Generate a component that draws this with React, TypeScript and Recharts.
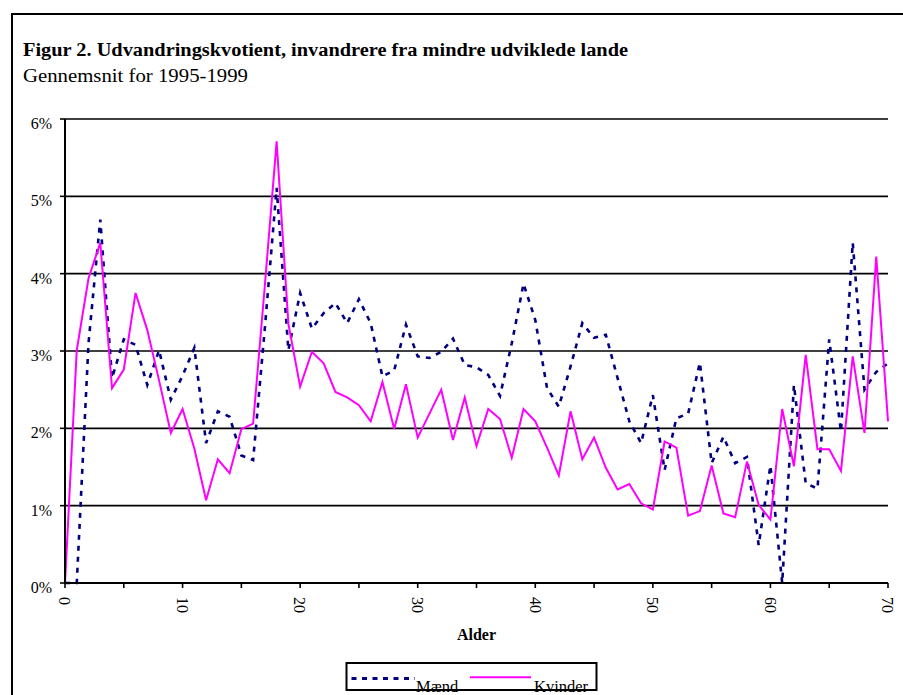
import React from 'react';
import { LineChart, Line, XAxis, YAxis, CartesianGrid, Legend } from 'recharts';

const ages = [
  0, 1, 2, 3, 4, 5, 6, 7, 8, 9, 10, 11, 12, 13, 14, 15, 16, 17, 18, 19, 20,
  21, 22, 23, 24, 25, 26, 27, 28, 29, 30, 31, 32, 33, 34, 35, 36, 37, 38, 39, 40,
  41, 42, 43, 44, 45, 46, 47, 48, 49, 50, 51, 52, 53, 54, 55, 56, 57, 58, 59, 60,
  61, 62, 63, 64, 65, 66, 67, 68, 69, 70,
];

// Udvandringskvotient i procent
const maend = [
  0, 0, 3.1, 4.7, 2.65, 3.15, 3.08, 2.56, 3.01, 2.37, 2.68,
  3.04, 1.81, 2.22, 2.15, 1.65, 1.59, 3.3, 5.11, 3.01, 3.75,
  3.29, 3.49, 3.62, 3.36, 3.67, 3.36, 2.67, 2.75, 3.34, 2.93,
  2.91, 2.99, 3.16, 2.82, 2.79, 2.69, 2.42, 3.1, 3.87, 3.4,
  2.52, 2.28, 2.8, 3.36, 3.17, 3.21, 2.65, 2.09, 1.81, 2.43,
  1.46, 2.13, 2.19, 2.85, 1.55, 1.89, 1.55, 1.63, 0.49, 1.52,
  0, 2.56, 1.29, 1.22, 3.15, 1.96, 4.4, 2.5, 2.73, 2.84,
];

const kvinder = [
  0, 3.01, 3.94, 4.4, 2.52, 2.76, 3.75, 3.27, 2.62, 1.94, 2.25,
  1.74, 1.07, 1.6, 1.42, 1.99, 2.06, 3.85, 5.71, 3.35, 2.54,
  2.99, 2.84, 2.47, 2.4, 2.3, 2.09, 2.6, 1.99, 2.57, 1.88,
  2.19, 2.5, 1.85, 2.4, 1.77, 2.25, 2.12, 1.62, 2.25, 2.09,
  1.75, 1.39, 2.22, 1.6, 1.88, 1.49, 1.21, 1.28, 1.03, 0.95,
  1.83, 1.75, 0.87, 0.93, 1.52, 0.9, 0.85, 1.57, 1.01, 0.82,
  2.25, 1.51, 2.95, 1.73, 1.73, 1.45, 2.93, 1.94, 4.22, 2.09,
];

const yTicks = [0, 1, 2, 3, 4, 5, 6];
const xTicks = [0, 5, 10, 15, 20, 25, 30, 35, 40, 45, 50, 55, 60, 65, 70];
const xLabels = [0, 10, 20, 30, 40, 50, 60, 70];

const titleText = 'Figur 2. Udvandringskvotient, invandrere fra mindre udviklede lande';
const subtitleText = 'Gennemsnit for 1995-1999';
const xAxisTitle = 'Alder';
const seriesNames = { maend: 'Mænd', kvinder: 'Kvinder' };

const data = ages.map((a, i) => ({ age: a, maend: maend[i], kvinder: kvinder[i] }));

const FONT = '"Liberation Serif", "Times New Roman", Times, serif';
const NAVY = '#000080';
const MAGENTA = '#FF00FF';

const XTick = (props: any) => {
  const { x, y, payload } = props;
  if (!xLabels.includes(payload.value)) return <g />;
  return (
    <text
      transform={`translate(${x},${y}) rotate(90)`}
      dy="0.36em"
      textAnchor="start"
      fontSize={16}
      fontFamily={FONT}
      fill="#000"
    >
      {payload.value}
    </text>
  );
};

const YTick = (props: any) => {
  const { x, y, payload } = props;
  return (
    <text x={x} y={y} dy={10} textAnchor="end" fontSize={16} fontFamily={FONT} fill="#000">
      {`${payload.value}%`}
    </text>
  );
};

const AxisTitle = (props: any) => {
  const vb = props.viewBox || { x: 65, y: 583, width: 823 };
  return (
    <text
      x={vb.x + vb.width / 2}
      y={vb.y + 57}
      textAnchor="middle"
      fontSize={16}
      fontWeight="bold"
      fontFamily={FONT}
      fill="#000"
    >
      {xAxisTitle}
    </text>
  );
};

const LegendBox = () => (
  <svg width={256} height={40} style={{ display: 'block', overflow: 'visible' }}>
    <rect x={1.5} y={1} width={250} height={27} fill="#fff" stroke="#000" strokeWidth={2} />
    <line x1={6.5} x2={70} y1={16.5} y2={16.5} stroke={NAVY} strokeWidth={3} strokeDasharray="5 5.5" />
    <text x={71} y={30} fontSize={16.5} fontFamily={FONT} fill="#000">{seriesNames.maend}</text>
    <line x1={125} x2={186} y1={15.3} y2={15.3} stroke={MAGENTA} strokeWidth={2} />
    <text x={189} y={30} fontSize={16.5} fontFamily={FONT} fill="#000">{seriesNames.kvinder}</text>
  </svg>
);

export default function App() {
  return (
    <div
      style={{
        position: 'absolute',
        left: 0,
        top: 0,
        width: 903,
        height: 695,
        overflow: 'hidden',
        background: '#fff',
      }}
    >
      <div
        style={{
          position: 'absolute',
          left: 11,
          top: 13,
          width: 2000,
          height: 2000,
          borderTop: '2px solid #000',
          borderLeft: '2px solid #000',
        }}
      />
      <svg
        width={903}
        height={100}
        style={{ position: 'absolute', left: 0, top: 0, pointerEvents: 'none' }}
      >
        <text
          x={23}
          y={56}
          fontSize={18}
          fontWeight="bold"
          fontFamily={FONT}
          textLength={605}
          lengthAdjust="spacingAndGlyphs"
          fill="#000"
        >
          {titleText}
        </text>
        <text
          x={23}
          y={82}
          fontSize={19}
          fontFamily={FONT}
          textLength={225}
          lengthAdjust="spacingAndGlyphs"
          fill="#000"
        >
          {subtitleText}
        </text>
      </svg>
      <div style={{ position: 'absolute', left: 0, top: 0 }}>
        <LineChart
          width={903}
          height={695}
          data={data}
          margin={{ top: 119, right: 15, bottom: 82, left: 5 }}
        >
          <CartesianGrid horizontal vertical={false} stroke="#000" strokeWidth={1.6} />
          <XAxis
            dataKey="age"
            type="number"
            domain={[0, 70]}
            ticks={xTicks}
            interval={0}
            height={30}
            tickSize={5}
            tickMargin={9}
            axisLine={{ stroke: '#000', strokeWidth: 2 }}
            tickLine={{ stroke: '#000', strokeWidth: 1.6 }}
            tick={<XTick />}
            label={<AxisTitle />}
          />
          <YAxis
            type="number"
            domain={[0, 6]}
            ticks={yTicks}
            interval={0}
            width={60}
            tickSize={5}
            tickMargin={8}
            axisLine={{ stroke: '#000', strokeWidth: 2 }}
            tickLine={{ stroke: '#000', strokeWidth: 1.6 }}
            tick={<YTick />}
          />
          <Legend
            layout="horizontal"
            verticalAlign="middle"
            align="center"
            wrapperStyle={{ position: 'absolute', left: 345, top: 662, width: 260, height: 40 }}
            content={() => <LegendBox />}
          />
          <Line
            type="linear"
            dataKey="maend"
            name={seriesNames.maend}
            stroke={NAVY}
            strokeWidth={2.6}
            strokeDasharray="5 6"
            dot={false}
            activeDot={false}
            isAnimationActive={false}
          />
          <Line
            type="linear"
            dataKey="kvinder"
            name={seriesNames.kvinder}
            stroke={MAGENTA}
            strokeWidth={2}
            dot={false}
            activeDot={false}
            isAnimationActive={false}
          />
        </LineChart>
      </div>
    </div>
  );
}
